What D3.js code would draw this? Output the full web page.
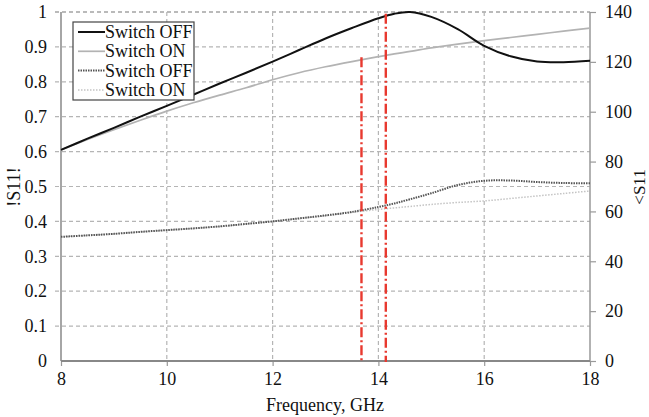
<!DOCTYPE html>
<html><head><meta charset="utf-8">
<script src="https://cdn.jsdelivr.net/npm/d3@7"></script>
<style>body{margin:0;background:#fff}svg{display:block}text{font-family:"Liberation Serif","Times New Roman",serif;fill:#111}</style>
</head><body><svg id="c" width="649" height="417"></svg>
<script>
const freq = [8, 8.5, 9, 9.5, 10, 10.5, 11, 11.5, 12, 12.5, 13, 13.5, 14, 14.3, 14.6, 15, 15.5, 16, 16.5, 17, 17.5, 18];
const magOff = [0.605, 0.637, 0.668, 0.70, 0.731, 0.763, 0.795, 0.826, 0.858, 0.891, 0.924, 0.954, 0.982, 0.995, 1.0, 0.986, 0.951, 0.903, 0.873, 0.858, 0.856, 0.86];
const magOn = [0.605, 0.635, 0.663, 0.69, 0.716, 0.74, 0.762, 0.783, 0.806, 0.826, 0.843, 0.858, 0.872, 0.88, 0.887, 0.897, 0.908, 0.918, 0.927, 0.936, 0.945, 0.954];
const phOff = [49.8, 50.4, 51.0, 51.8, 52.5, 53.2, 54.0, 55.0, 56.0, 57.2, 58.4, 59.8, 61.8, 63.2, 64.9, 67.3, 70.6, 72.3, 72.4, 71.8, 71.4, 71.3];
const phOn = [49.8, 50.4, 51.0, 51.8, 52.5, 53.2, 54.0, 55.0, 56.0, 57.2, 58.3, 59.6, 60.8, 61.4, 62.0, 62.8, 63.6, 64.2, 65.2, 66.2, 67.2, 68.2];
const markers = [13.68, 14.14];
const markerTop = [0.87, 0.995];
const xTicks = [8, 10, 12, 14, 16, 18];
const yTicks = [0, 0.1, 0.2, 0.3, 0.4, 0.5, 0.6, 0.7, 0.8, 0.9, 1];
const y2Ticks = [0, 20, 40, 60, 80, 100, 120, 140];
const legendLabels = ["Switch OFF", "Switch ON", "Switch OFF", "Switch ON"];

const svg = d3.select("#c");
const L = 61, R = 590, T = 12, B = 361;
const x = d3.scaleLinear().domain([8, 18]).range([L, R]);
const y = d3.scaleLinear().domain([0, 1]).range([B, T]);
const y2 = d3.scaleLinear().domain([0, 140]).range([B, T]);
const gridColor = "#b5b5b5";

// grid
svg.append("g").selectAll("line").data(yTicks.slice(1)).join("line")
  .attr("x1", L - 6).attr("x2", R).attr("y1", d => y(d)).attr("y2", d => y(d))
  .attr("stroke", d => d === 1 ? "#777" : gridColor).attr("stroke-width", 1.2).attr("stroke-dasharray", "4,3");
svg.append("g").selectAll("line").data(xTicks.slice(1, -1)).join("line")
  .attr("x1", d => x(d)).attr("x2", d => x(d)).attr("y1", T).attr("y2", B)
  .attr("stroke", gridColor).attr("stroke-width", 1.2).attr("stroke-dasharray", "4,3");

// frame
svg.append("line").attr("x1", L).attr("x2", L).attr("y1", T).attr("y2", B).attr("stroke", "#888").attr("stroke-width", 1.5);
svg.append("line").attr("x1", R).attr("x2", R).attr("y1", T).attr("y2", B).attr("stroke", "#999").attr("stroke-width", 1.5);

// axes labels
const axL = svg.append("g").attr("transform", `translate(${L},0)`).call(d3.axisLeft(y).tickValues(yTicks).tickSize(0).tickPadding(14).tickFormat(d => d3.format("")(+d.toFixed(1))));
const axR = svg.append("g").attr("transform", `translate(${R},0)`).call(d3.axisRight(y2).tickValues(y2Ticks).tickSize(6).tickPadding(9));
const axB = svg.append("g").attr("transform", `translate(0,${B})`).call(d3.axisBottom(x).tickValues(xTicks).tickSize(5).tickPadding(6));
[axL, axR, axB].forEach(a => {
  a.select(".domain").remove();
  a.selectAll("line").attr("stroke", "#999").attr("stroke-width", 1.2);
  a.selectAll("text").style("font-family", '"Liberation Serif",serif').style("font-size", "18px").attr("fill", "#111");
});
svg.append("line").attr("x1", L).attr("x2", R).attr("y1", B).attr("y2", B).attr("stroke", "#888").attr("stroke-width", 2);

// curves
const ln = (ys, sc) => d3.line().x((d, i) => x(freq[i])).y(d => sc(d)).curve(d3.curveCatmullRom)(ys);
svg.append("path").attr("d", ln(phOn, y2)).attr("fill", "none").attr("stroke", "#c4c4c4").attr("stroke-width", 1.5).attr("stroke-dasharray", "1.5,1.5");
svg.append("path").attr("d", ln(phOff, y2)).attr("fill", "none").attr("stroke", "#555").attr("stroke-width", 2).attr("stroke-dasharray", "1.5,1");
svg.append("path").attr("d", ln(magOn, y)).attr("fill", "none").attr("stroke", "#b3b3b3").attr("stroke-width", 1.7);
svg.append("path").attr("d", ln(magOff, y)).attr("fill", "none").attr("stroke", "#111").attr("stroke-width", 2);

// red markers
svg.append("g").selectAll("line").data(markers).join("line")
  .attr("x1", d => x(d)).attr("x2", d => x(d)).attr("y1", (d, i) => y(markerTop[i])).attr("y2", B + 1)
  .attr("stroke", "#e8392f").attr("stroke-width", 2.4).attr("stroke-dasharray", "10,3,2,3");

// legend
const lg = svg.append("g");
lg.append("rect").attr("x", 73).attr("y", 22).attr("width", 121).attr("height", 78).attr("fill", "#fff").attr("stroke", "#444").attr("stroke-width", 1.2);
const lgStyles = [
  {c: "#111", w: 2, d: null}, {c: "#b3b3b3", w: 1.7, d: null},
  {c: "#555", w: 2, d: "1.5,1"}, {c: "#c4c4c4", w: 1.5, d: "1.5,1.5"}
];
legendLabels.forEach((t, i) => {
  const yy = 32 + i * 19.3;
  lg.append("line").attr("x1", 78).attr("x2", 105).attr("y1", yy).attr("y2", yy)
    .attr("stroke", lgStyles[i].c).attr("stroke-width", lgStyles[i].w).attr("stroke-dasharray", lgStyles[i].d);
  lg.append("text").attr("x", 105).attr("y", yy + 6).style("font-size", "18px").text(t);
});

// titles
svg.append("text").attr("x", 325).attr("y", 411).attr("text-anchor", "middle").style("font-size", "18px").text("Frequency, GHz");
svg.append("text").attr("transform", "translate(20,187) rotate(-90)").attr("text-anchor", "middle").style("font-size", "18px").text("!S11!");
svg.append("text").attr("transform", "translate(645,187) rotate(-90)").attr("text-anchor", "middle").style("font-size", "17px").text("<S11");
</script></body></html>
